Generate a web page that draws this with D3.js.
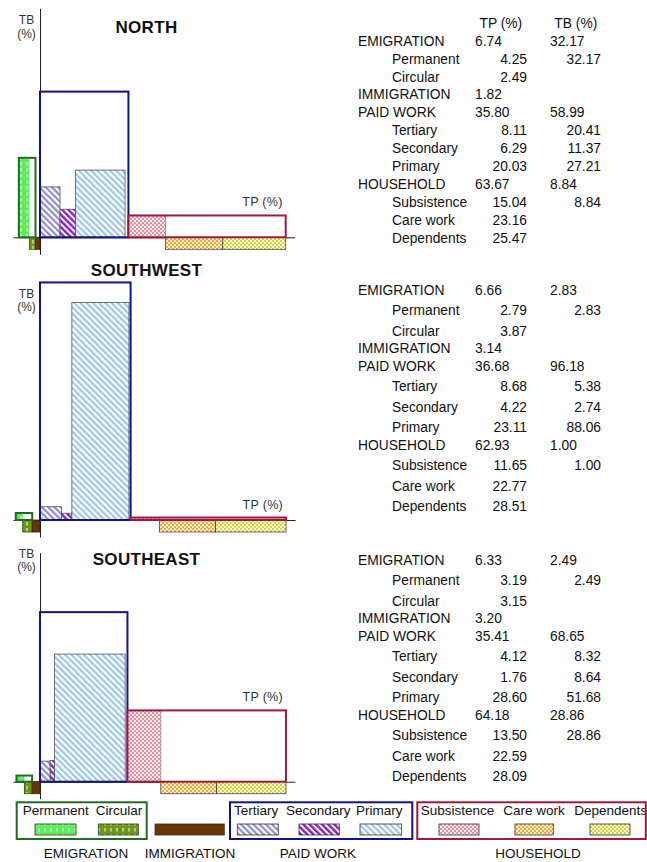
<!DOCTYPE html>
<html>
<head>
<meta charset="utf-8">
<script src="https://cdn.jsdelivr.net/npm/d3@7"></script>
<style>
  html, body { margin: 0; padding: 0; background: #fff; }
  svg { display: block; font-family: "Liberation Sans", Arial, sans-serif; }
</style>
</head>
<body>
<svg id="chart" width="647" height="862"></svg>
<script>
// ---- data: share of time (TP) and share of benefits (TB), in percent ----
const regions        = ["NORTH", "SOUTHWEST", "SOUTHEAST"];
const emigrationTP   = [6.74, 6.66, 6.33];
const emigrationTB   = [32.17, 2.83, 2.49];
const permanentTP    = [4.25, 2.79, 3.19];
const permanentTB    = [32.17, 2.83, 2.49];
const circularTP     = [2.49, 3.87, 3.15];
const immigrationTP  = [1.82, 3.14, 3.20];
const paidWorkTP     = [35.80, 36.68, 35.41];
const paidWorkTB     = [58.99, 96.18, 68.65];
const tertiaryTP     = [8.11, 8.68, 4.12];
const tertiaryTB     = [20.41, 5.38, 8.32];
const secondaryTP    = [6.29, 4.22, 1.76];
const secondaryTB    = [11.37, 2.74, 8.64];
const primaryTP      = [20.03, 23.11, 28.60];
const primaryTB      = [27.21, 88.06, 51.68];
const householdTP    = [63.67, 62.93, 64.18];
const householdTB    = [8.84, 1.00, 28.86];
const subsistenceTP  = [15.04, 11.65, 13.50];
const subsistenceTB  = [8.84, 1.00, 28.86];
const careWorkTP     = [23.16, 22.77, 22.59];
const dependentsTP   = [25.47, 28.51, 28.09];

const groupNames    = ["EMIGRATION", "IMMIGRATION", "PAID WORK", "HOUSEHOLD"];
const emigSubs      = ["Permanent", "Circular"];
const paidSubs      = ["Tertiary", "Secondary", "Primary"];
const householdSubs = ["Subsistence", "Care work", "Dependents"];
const columnHeads   = ["TP (%)", "TB (%)"];
const axisLabelTB   = ["TB", "(%)"];
const axisLabelTP   = "TP (%)";

// ---- layout ----
const UNIT = 2.47;          // pixels per percentage point on both axes
const ORIGIN_X = 40;
const BELOW = 12;           // depth of the strips hung below the axis
const panels = [
  { axisY: 237.3, titleY: 33,  tbY: [24, 37.5],  rowStart: 40.7, groupStep: 17.9, subStep: 17.9 },
  { axisY: 520,   titleY: 276, tbY: [298, 310.5], rowStart: 290,  groupStep: 17.6, subStep: 20.4 },
  { axisY: 781.7, titleY: 565, tbY: [558, 571],  rowStart: 560,  groupStep: 17.6, subStep: 20.4 }
];

const C = {
  emig: "#1f6b1f", paid: "#12128a", house: "#a3173d",
  axis: "#222", edge: "#555", text: "#111"
};

const svg = d3.select("#chart");
const defs = svg.append("defs");

// ---- fill patterns ----
function dashPattern(id, bg) {
  const p = defs.append("pattern").attr("id", id).attr("patternUnits", "userSpaceOnUse")
    .attr("width", 6).attr("height", 6);
  p.append("rect").attr("width", 6).attr("height", 6).attr("fill", bg);
  p.append("line").attr("x1", 3).attr("x2", 3).attr("y1", 0).attr("y2", 3.5)
    .attr("stroke", "#fff").attr("stroke-width", 1);
}
function stripePattern(id, color, w) {
  const p = defs.append("pattern").attr("id", id).attr("patternUnits", "userSpaceOnUse")
    .attr("width", 4.4).attr("height", 4.4).attr("patternTransform", "rotate(-45)");
  p.append("rect").attr("width", 4.4).attr("height", 4.4).attr("fill", "#fff");
  p.append("rect").attr("x", 0).attr("width", w).attr("height", 4.4).attr("fill", color);
}
function dotPattern(id, bg, dot) {
  const p = defs.append("pattern").attr("id", id).attr("patternUnits", "userSpaceOnUse")
    .attr("width", 4).attr("height", 4);
  p.append("rect").attr("width", 4).attr("height", 4).attr("fill", bg);
  p.append("circle").attr("cx", 1).attr("cy", 1).attr("r", 1.05).attr("fill", dot);
  p.append("circle").attr("cx", 3).attr("cy", 3).attr("r", 1.05).attr("fill", dot);
}
dashPattern("p-perm", "#5ced5c");
dashPattern("p-circ", "#6a9a12");
stripePattern("p-tert", "#8c8cdc", 2.2);
stripePattern("p-sec", "#8a1fcc", 2.4);
stripePattern("p-prim", "#9ac7ec", 2.2);
dotPattern("p-subs", "#fdf0f2", "#ee8090");
dotPattern("p-care", "#fff6d6", "#ff9a22");
dotPattern("p-dep", "#fdfcd8", "#c9d22c");

const fills = {
  Permanent: "url(#p-perm)", Circular: "url(#p-circ)", IMMIGRATION: "#6a3504",
  Tertiary: "url(#p-tert)", Secondary: "url(#p-sec)", Primary: "url(#p-prim)",
  Subsistence: "url(#p-subs)", "Care work": "url(#p-care)", Dependents: "url(#p-dep)"
};

function rect(g, x0, x1, y0, y1, fill, stroke, sw) {
  g.append("rect")
    .attr("x", Math.min(x0, x1)).attr("y", Math.min(y0, y1))
    .attr("width", Math.abs(x1 - x0)).attr("height", Math.abs(y1 - y0))
    .attr("fill", fill).attr("stroke", stroke).attr("stroke-width", sw);
}

regions.forEach((name, i) => {
  const L = panels[i];
  const g = svg.append("g");
  const x = d3.scaleLinear().domain([0, 100]).range([ORIGIN_X, ORIGIN_X + UNIT * 100]);
  const y = d3.scaleLinear().domain([0, 100]).range([L.axisY, L.axisY - UNIT * 100]);
  const below = L.axisY + BELOW;

  // axes (plain lines, no ticks)
  const hhEnd = paidWorkTP[i] + householdTP[i];
  const xAxisScale = d3.scaleLinear()
    .domain([x.invert(13), hhEnd + 9 / UNIT]).range([13, x(hhEnd) + 9]);
  g.append("g").attr("transform", `translate(0,${L.axisY})`)
    .call(d3.axisBottom(xAxisScale).tickValues([]).tickSizeOuter(0))
    .select(".domain").attr("stroke", C.axis);
  const yAxisScale = d3.scaleLinear()
    .domain([-17 / UNIT, 229 / UNIT]).range([L.axisY + 17, L.axisY - 229]);
  g.append("g").attr("transform", `translate(${ORIGIN_X},0)`)
    .call(d3.axisLeft(yAxisScale).tickValues([]).tickSizeOuter(0))
    .select(".domain").attr("stroke", C.axis);

  // emigration, left of the origin
  const eStart = -(emigrationTP[i] + immigrationTP[i]);
  rect(g, x(eStart), x(eStart + permanentTP[i]), y(0), y(permanentTB[i]), fills.Permanent, "none", 0);
  rect(g, x(eStart + permanentTP[i]), x(eStart + permanentTP[i] + circularTP[i]), L.axisY, below,
       fills.Circular, "#2f4a0a", 0.8);
  rect(g, x(-immigrationTP[i]), x(0), L.axisY, below, fills.IMMIGRATION, "#3a1d02", 0.8);
  rect(g, x(eStart), x(eStart + emigrationTP[i]), y(0), y(emigrationTB[i]), "none", C.emig, 2);

  // paid work
  let cx = 0;
  [[tertiaryTP, tertiaryTB, "Tertiary"], [secondaryTP, secondaryTB, "Secondary"],
   [primaryTP, primaryTB, "Primary"]].forEach(([tp, tb, k]) => {
    rect(g, x(cx), x(cx + tp[i]), y(0), y(tb[i]), fills[k], C.edge, 0.8);
    cx += tp[i];
  });
  rect(g, x(0), x(paidWorkTP[i]), y(0), y(paidWorkTB[i]), "none", C.paid, 2);

  // household
  const h0 = paidWorkTP[i];
  rect(g, x(h0), x(h0 + subsistenceTP[i]), y(0), y(subsistenceTB[i]), fills.Subsistence, "#888", 0.8);
  const c0 = h0 + subsistenceTP[i];
  rect(g, x(c0), x(c0 + careWorkTP[i]), L.axisY, below, fills["Care work"], "#444", 0.8);
  const d0 = c0 + careWorkTP[i];
  rect(g, x(d0), x(d0 + dependentsTP[i]), L.axisY, below, fills.Dependents, "#444", 0.8);
  rect(g, x(h0), x(hhEnd), y(0), y(householdTB[i]), "none", C.house, 2);

  // titles and axis captions
  g.append("text").attr("x", 146.5).attr("y", L.titleY).attr("text-anchor", "middle")
    .attr("font-size", 17).attr("font-weight", "bold").attr("letter-spacing", 0.3)
    .attr("fill", C.text).text(name);
  axisLabelTB.forEach((t, k) => {
    g.append("text").attr("x", 26.5).attr("y", L.tbY[k]).attr("text-anchor", "middle")
      .attr("font-size", 12).attr("fill", "#333").text(t);
  });
  g.append("text").attr("x", x(hhEnd) - 3).attr("y", y(householdTB[i]) - 9)
    .attr("text-anchor", "end").attr("font-size", 12.5).attr("fill", "#333")
    .attr("letter-spacing", 0.3).text(axisLabelTP);

  // value table
  const rows = [
    [groupNames[0], 0, emigrationTP[i], emigrationTB[i]],
    [emigSubs[0], 1, permanentTP[i], permanentTB[i]],
    [emigSubs[1], 1, circularTP[i], null],
    [groupNames[1], 0, immigrationTP[i], null],
    [groupNames[2], 0, paidWorkTP[i], paidWorkTB[i]],
    [paidSubs[0], 1, tertiaryTP[i], tertiaryTB[i]],
    [paidSubs[1], 1, secondaryTP[i], secondaryTB[i]],
    [paidSubs[2], 1, primaryTP[i], primaryTB[i]],
    [groupNames[3], 0, householdTP[i], householdTB[i]],
    [householdSubs[0], 1, subsistenceTP[i], subsistenceTB[i]],
    [householdSubs[1], 1, careWorkTP[i], null],
    [householdSubs[2], 1, dependentsTP[i], null]
  ];
  const t = g.append("g").attr("font-size", 13.8).attr("fill", C.text);
  if (i === 0) {
    t.append("text").attr("x", 500.8).attr("y", 27.5).attr("text-anchor", "middle").text(columnHeads[0]);
    t.append("text").attr("x", 575.8).attr("y", 27.5).attr("text-anchor", "middle").text(columnHeads[1]);
  }
  let ry = L.rowStart;
  rows.forEach(([label, lvl, tp, tb], r) => {
    if (r > 0) ry += lvl === 0 ? L.groupStep : L.subStep;
    const by = ry + 5;
    t.append("text").attr("x", lvl === 0 ? 358 : 392).attr("y", by).text(label);
    t.append("text").attr("x", lvl === 0 ? 475 : 527).attr("y", by)
      .attr("text-anchor", lvl === 0 ? "start" : "end").text(tp.toFixed(2));
    if (tb !== null) {
      t.append("text").attr("x", lvl === 0 ? 550 : 601).attr("y", by)
        .attr("text-anchor", lvl === 0 ? "start" : "end").text(tb.toFixed(2));
    }
  });
});

// ---- legend ----
const lg = svg.append("g").attr("font-size", 13.5).attr("fill", C.text);
const legendGroups = [
  { box: [16.7, 146.7], stroke: C.emig, items: [
      { k: "Permanent", tx: 22.7, sw: [35, 76] }, { k: "Circular", tx: 95.7, sw: [98.3, 138.3] }] },
  { box: null, items: [{ k: "IMMIGRATION", tx: null, sw: [155, 224.3] }] },
  { box: [230, 412.3], stroke: C.paid, items: [
      { k: "Tertiary", tx: 234, sw: [237.3, 278.3] }, { k: "Secondary", tx: 286, sw: [299, 339.3] },
      { k: "Primary", tx: 356, sw: [360, 401.7] }] },
  { box: [417.3, 645.8], stroke: C.house, items: [
      { k: "Subsistence", tx: 420.7, sw: [439, 479] }, { k: "Care work", tx: 503.3, sw: [515, 553.3] },
      { k: "Dependents", tx: 574.3, sw: [590, 630] }] }
];
legendGroups.forEach(grp => {
  grp.items.forEach(it => {
    lg.append("rect").attr("x", it.sw[0]).attr("y", 824).attr("width", it.sw[1] - it.sw[0])
      .attr("height", 11).attr("fill", fills[it.k]).attr("stroke", "#333").attr("stroke-width", 0.8);
    if (it.tx !== null) lg.append("text").attr("x", it.tx).attr("y", 815).text(it.k);
  });
  if (grp.box) {
    lg.append("rect").attr("x", grp.box[0]).attr("y", 802.3).attr("width", grp.box[1] - grp.box[0])
      .attr("height", 36.7).attr("fill", "none").attr("stroke", grp.stroke).attr("stroke-width", 2);
  }
});
const groupCenters = [86, 190, 318, 538];
groupNames.forEach((n, k) => {
  lg.append("text").attr("x", groupCenters[k]).attr("y", 858).attr("text-anchor", "middle").text(n);
});
</script>
</body>
</html>
